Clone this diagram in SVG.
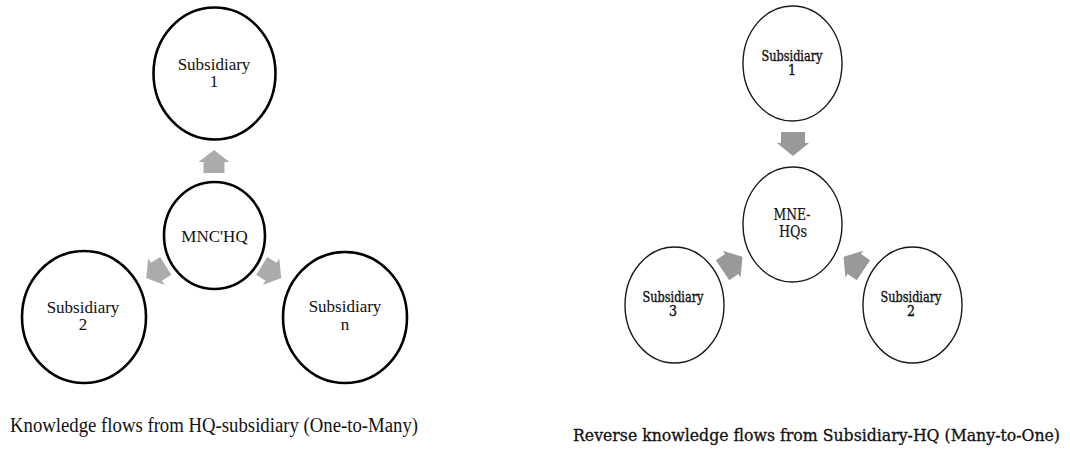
<svg xmlns="http://www.w3.org/2000/svg" width="1070" height="451" viewBox="0 0 1070 451">
<style>
.bg{fill:#ffffff}
.nl{fill:#ffffff;stroke:#000000;stroke-width:2.6}
.nr{fill:#ffffff;stroke:#1a1a1a;stroke-width:1.4}
.tl{font-family:"Liberation Serif","Times New Roman",serif;font-size:17px;fill:#111111;text-anchor:middle}
.tr{font-family:"DejaVu Serif Condensed","DejaVu Serif",serif;font-size:14px;fill:#111111;stroke:#111111;stroke-width:0.35;text-anchor:middle}
.trm{font-family:"DejaVu Serif Condensed","DejaVu Serif",serif;font-size:16px;fill:#111111;stroke:#111111;stroke-width:0.2;text-anchor:middle}
.cl{font-family:"Liberation Serif","Times New Roman",serif;font-size:20px;fill:#111111}
.cr{font-family:"DejaVu Serif Condensed","DejaVu Serif",serif;font-size:17px;fill:#111111;stroke:#111111;stroke-width:0.3}
.al{fill:#ababab}
.ar{fill:#999999}
</style>
<defs>
<path id="upArrow" d="M0,-11.5 L15.5,0.5 L10.5,0.5 L10.5,11.5 L-10.5,11.5 L-10.5,0.5 L-15.5,0.5 Z"/>
<path id="downArrow" d="M-12,-12 L12,-12 L12,-1 L16,-1 L0,12 L-16,-1 L-12,-1 Z"/>
</defs>
<rect class="bg" x="0" y="0" width="1070" height="451"/>

<g id="connectors">
  <use href="#upArrow" class="al" transform="translate(214,161.5)"/>
  <use href="#upArrow" class="al" transform="translate(156,272) rotate(-122)"/>
  <use href="#upArrow" class="al" transform="translate(271.5,272) rotate(122)"/>
  <use href="#downArrow" class="ar" transform="translate(793,144)"/>
  <use href="#downArrow" class="ar" transform="translate(732.5,263.5) rotate(-124)"/>
  <use href="#downArrow" class="ar" transform="translate(853.5,263.5) rotate(124)"/>
</g>

<g id="left-sub1">
  <ellipse class="nl" cx="214.5" cy="73.5" rx="61" ry="66"/>
  <text class="tl" x="214" y="70">Subsidiary</text>
  <text class="tl" x="214" y="87">1</text>
</g>
<g id="left-hq">
  <ellipse class="nl" cx="214.5" cy="235.5" rx="50.5" ry="53.5"/>
  <text class="tl" x="214.5" y="242">MNC'HQ</text>
</g>
<g id="left-sub2">
  <ellipse class="nl" cx="84" cy="317" rx="62" ry="66"/>
  <text class="tl" x="83" y="313">Subsidiary</text>
  <text class="tl" x="83" y="330">2</text>
</g>
<g id="left-subn">
  <ellipse class="nl" cx="345" cy="317.5" rx="62" ry="65.5"/>
  <text class="tl" x="345" y="312">Subsidiary</text>
  <text class="tl" x="345" y="330">n</text>
</g>

<g id="right-sub1">
  <ellipse class="nr" cx="792.5" cy="63.5" rx="49.5" ry="57.5"/>
  <text class="tr" x="792" y="61" textLength="61" lengthAdjust="spacingAndGlyphs">Subsidiary</text>
  <text class="tr" x="792" y="75">1</text>
</g>
<g id="right-hq">
  <ellipse class="nr" cx="792.5" cy="224.5" rx="49.5" ry="57.5"/>
  <text class="trm" x="792" y="220" textLength="37" lengthAdjust="spacingAndGlyphs">MNE-</text>
  <text class="trm" x="793" y="237" textLength="28" lengthAdjust="spacingAndGlyphs">HQs</text>
</g>
<g id="right-sub3">
  <ellipse class="nr" cx="674.5" cy="305" rx="49.5" ry="58"/>
  <text class="tr" x="673" y="302" textLength="61" lengthAdjust="spacingAndGlyphs">Subsidiary</text>
  <text class="tr" x="673" y="316">3</text>
</g>
<g id="right-sub2">
  <ellipse class="nr" cx="912.5" cy="305" rx="49.5" ry="58"/>
  <text class="tr" x="911" y="302" textLength="61" lengthAdjust="spacingAndGlyphs">Subsidiary</text>
  <text class="tr" x="911" y="316">2</text>
</g>

<g id="captions">
  <text class="cl" x="10" y="432" textLength="408" lengthAdjust="spacingAndGlyphs">Knowledge flows from HQ-subsidiary (One-to-Many)</text>
  <text class="cr" x="573" y="441" textLength="487" lengthAdjust="spacingAndGlyphs">Reverse knowledge flows from Subsidiary-HQ (Many-to-One)</text>
</g>
</svg>
